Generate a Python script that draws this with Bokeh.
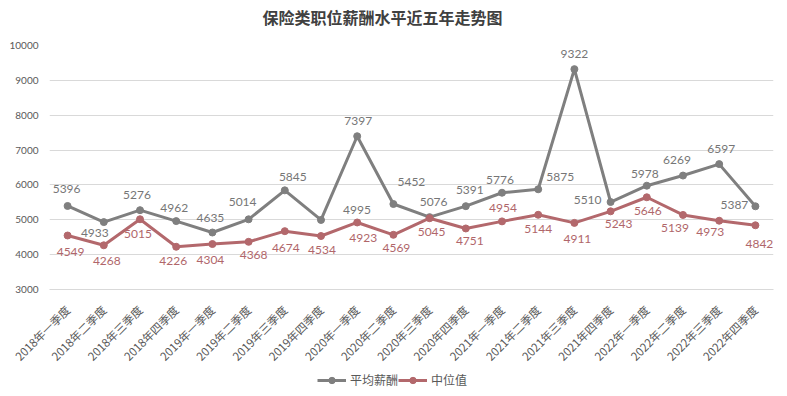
import math
from bokeh.plotting import figure
from bokeh.layouts import column
from bokeh.models import (ColumnDataSource, LabelSet, Label, Legend, LegendItem,
                          FixedTicker, Range1d, FactorRange)
from bokeh.core.properties import value
from bokeh.embed import file_html
from bokeh.resources import INLINE

# ---------------- data ----------------
categories = [
    "2018年一季度", "2018年二季度", "2018年三季度", "2018年四季度",
    "2019年一季度", "2019年二季度", "2019年三季度", "2019年四季度",
    "2020年一季度", "2020年二季度", "2020年三季度", "2020年四季度",
    "2021年一季度", "2021年二季度", "2021年三季度", "2021年四季度",
    "2022年一季度", "2022年二季度", "2022年三季度", "2022年四季度",
]
avg_salary = [5396, 4933, 5276, 4962, 4635, 5014, 5845, 4995, 7397, 5452,
              5076, 5391, 5776, 5875, 9322, 5510, 5978, 6269, 6597, 5387]
median_salary = [4549, 4268, 5015, 4226, 4304, 4368, 4674, 4534, 4923, 4569,
                 5045, 4751, 4954, 5144, 4911, 5243, 5646, 5139, 4973, 4842]
y_ticks = [3000, 4000, 5000, 6000, 7000, 8000, 9000, 10000]

series_names = ["平均薪酬", "中位值"]
title_text = "保险类职位薪酬水平近五年走势图"

# label placement (screen pixels, style only)
avg_dx = [-1, -9, -3, -2, -2, -6, 8, 36, 1, 18, 4, 4, -2, 22, 0, -23, -2, -6, 2, -21]
avg_dy = [17, -11, 15, 13, 15, 17, 13, 10, 15, 22, 15, 16, 13, 12, 15, 2, 12, 16, 15, 1]
med_dx = [3, 3, -2, -3, -2, 5, 1, 1, 6, 3, 2, 4, 1, 0, 3, 8, 1, -8, -9, 4]
med_dy = [-16, -16, -15, -14, -16, -13, -17, -14, -16, -13, -14, -13, 13, -14, -16,
          -13, -14, -13, -11, -19]

GRAY = "#7f7f7f"
RED = "#b3686c"
GRAY_TXT = "#767676"
RED_TXT = "#b0666a"
AXIS_TXT = "#595959"
GRID = "#d9d9d9"
CJK = "Noto Sans CJK SC"
NUM = "Lato"

W = 787
BORDER_L, BORDER_R = 49, 14


def strip(height):
    f = figure(width=W, height=height, output_backend="svg", toolbar_location=None,
               x_range=Range1d(BORDER_L, W - BORDER_R), y_range=Range1d(0, height),
               x_axis_location=None, y_axis_location=None,
               min_border_left=BORDER_L, min_border_right=BORDER_R,
               min_border_top=0, min_border_bottom=0)
    f.grid.visible = False
    f.outline_line_color = None
    return f


# ---------------- title strip ----------------
top = strip(30)
top.add_layout(Label(x=382, y=13.5, text=title_text, text_align="center",
                     text_baseline="middle", text_font=CJK, text_font_size="16px",
                     text_font_style="bold", text_color="#404040"))

# ---------------- main chart ----------------
src = ColumnDataSource(dict(
    cat=categories, avg=avg_salary, med=median_salary,
    avg_txt=[str(v) for v in avg_salary], med_txt=[str(v) for v in median_salary],
    avg_dx=avg_dx, avg_dy=avg_dy, med_dx=med_dx, med_dy=med_dy,
))

p = figure(width=W, height=342, x_range=FactorRange(factors=categories, range_padding=0),
           y_range=Range1d(3000, 10000), output_backend="svg", toolbar_location=None,
           min_border_left=BORDER_L, min_border_right=BORDER_R, min_border_top=15,
           min_border_bottom=83)
p.outline_line_color = None
p.background_fill_color = "white"
p.border_fill_color = "white"

p.yaxis.ticker = FixedTicker(ticks=y_ticks)
p.yaxis.axis_line_color = None
p.yaxis.major_tick_line_color = None
p.yaxis.minor_tick_line_color = None
p.yaxis.major_label_standoff = 5
p.yaxis.major_label_text_font = NUM
p.yaxis.major_label_text_font_size = "10px"
p.yaxis.major_label_text_color = AXIS_TXT

p.xaxis.axis_line_color = GRID
p.xaxis.major_tick_line_color = None
p.xaxis.minor_tick_line_color = None
p.xaxis.major_label_orientation = math.pi / 4
p.xaxis.major_label_standoff = 12
p.xaxis.major_label_text_font = CJK
p.xaxis.major_label_text_font_size = "11.5px"
p.xaxis.major_label_text_color = AXIS_TXT

p.xgrid.grid_line_color = None
p.ygrid.grid_line_color = GRID
p.ygrid.grid_line_width = 1

p.line("cat", "avg", source=src, line_color=GRAY, line_width=3)
p.scatter("cat", "avg", source=src, size=7, fill_color=GRAY, line_color=GRAY)
p.line("cat", "med", source=src, line_color=RED, line_width=3)
p.scatter("cat", "med", source=src, size=7, fill_color=RED, line_color=RED)

lab1 = LabelSet(x="cat", y="avg", text="avg_txt", source=src, x_offset="avg_dx", y_offset="avg_dy",
                text_align="center", text_baseline="middle", text_font=value(NUM),
                text_font_size=value("12px"), text_color=value(GRAY_TXT))
lab2 = LabelSet(x="cat", y="med", text="med_txt", source=src, x_offset="med_dx", y_offset="med_dy",
                text_align="center", text_baseline="middle", text_font=value(NUM),
                text_font_size=value("12px"), text_color=value(RED_TXT))
p.add_layout(lab1)
p.add_layout(lab2)

# ---------------- legend strip (swatch renderers hidden) ----------------
leg = strip(24)
swatch = ColumnDataSource(dict(x=[400], y=[12]))
gl = leg.line("x", "y", source=swatch, line_color=GRAY, line_width=3, visible=False)
gs = leg.scatter("x", "y", source=swatch, size=7, fill_color=GRAY, line_color=GRAY, visible=False)
rl = leg.line("x", "y", source=swatch, line_color=RED, line_width=3, visible=False)
rs = leg.scatter("x", "y", source=swatch, size=7, fill_color=RED, line_color=RED, visible=False)
legend = Legend(items=[LegendItem(label=series_names[0], renderers=[gl, gs]),
                       LegendItem(label=series_names[1], renderers=[rl, rs])],
                orientation="horizontal", location=(268, 8),
                glyph_width=29, glyph_height=16, label_height=16, label_standoff=4,
                spacing=0, padding=0, margin=0, click_policy="none",
                label_text_font=CJK, label_text_font_size="12px", label_text_color=AXIS_TXT,
                border_line_color=None, background_fill_alpha=0)
leg.add_layout(legend, "center")

layout = column(top, p, leg, spacing=0)
open("out.html", "w").write(file_html(layout, INLINE))
